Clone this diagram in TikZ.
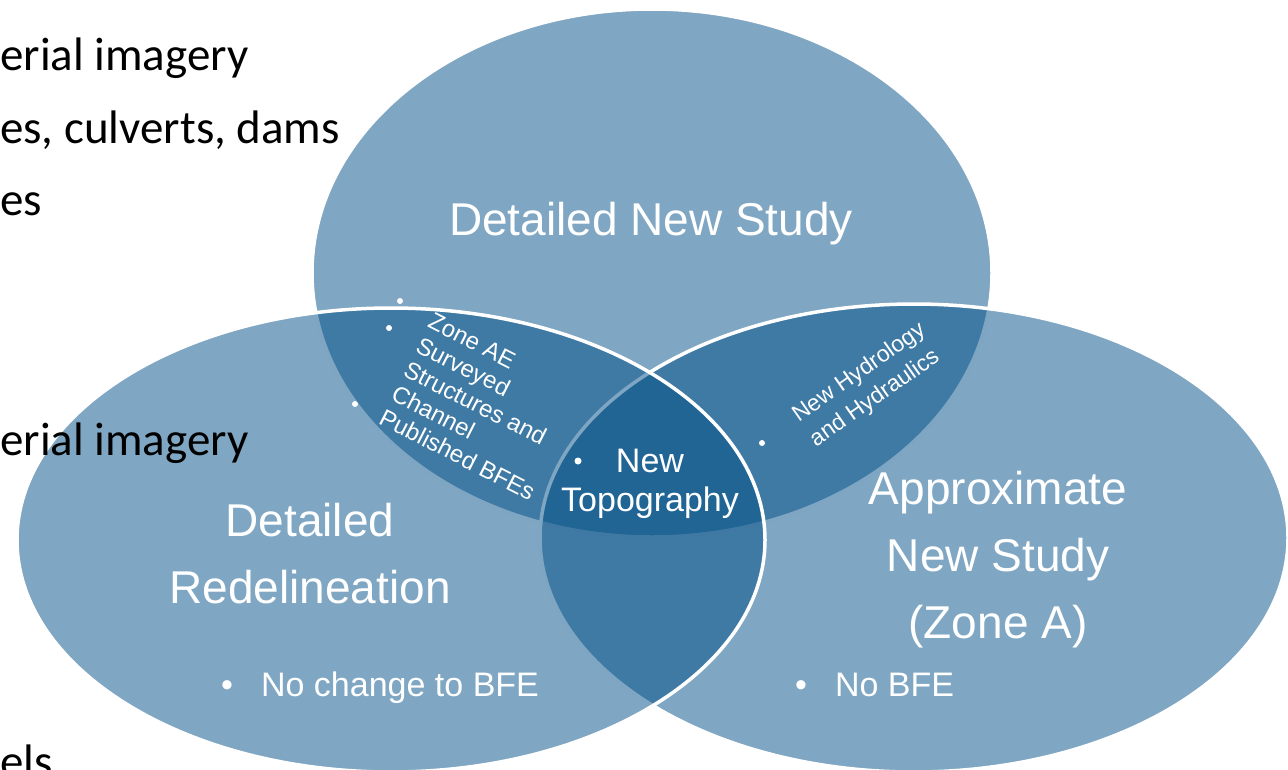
\documentclass[tikz,border=0pt]{standalone}
\usepackage{fontspec}
\setmainfont{Liberation Sans}
\newfontfamily\slidefont{Carlito}
\usepackage{tikz}
\usetikzlibrary{shapes.geometric}
\definecolor{vennblue}{RGB}{3,80,135}

\begin{document}
\begin{tikzpicture}[x=1pt,y=-1pt,
    venn/.style={ellipse, draw=white, line width=3.5pt, fill=vennblue, fill opacity=0.51, inner sep=0pt},
    biglabel/.style={text=white, font=\fontsize{46}{67}\selectfont, align=center},
    midlabel/.style={text=white, font=\fontsize{34}{39}\selectfont, align=center},
    smalllabel/.style={text=white, font=\fontsize{24}{27}\selectfont, align=left, inner sep=0pt},
    slidetext/.style={anchor=base west, inner sep=0pt, font=\slidefont\fontsize{47}{57}\selectfont}]
  \useasboundingbox (0,0) rectangle (1288,769);
  \clip (0,0) rectangle (1288,769);
  \node[venn, minimum width=680pt, minimum height=528pt] (study) at (652,273) {};
  \node[venn, minimum width=748pt, minimum height=468pt] (approx) at (914,538) {};
  \node[venn, minimum width=748pt, minimum height=464pt] (redel) at (391,540) {};
  \node[biglabel, anchor=base] (studytitle) at (651,235) {Detailed New Study};
  \node[biglabel] (redeltitle) at (310,554) {Detailed\\Redelineation};
  \node[biglabel] (approxtitle) at (998,560) {Approximate\\New Study\\(Zone A)};
  \node[midlabel] (topo) at (650,484) {New\\Topography};
  \node[midlabel, anchor=base west, inner sep=0pt] (nochange) at (221,696) {•\hspace{28pt}No change to BFE};
  \node[midlabel, anchor=base west, inner sep=0pt] (nobfe) at (795,696) {•\hspace{28pt}No BFE};
  \node[smalllabel, rotate=-27, anchor=north west] (zoneae) at (434,312) {Zone AE\\Surveyed\\Structures and\\Channel\\Published BFEs};
  \node[smalllabel, rotate=35, anchor=north west, font=\fontsize{23}{30}\selectfont] (hydro) at (789,409) {New Hydrology\\and Hydraulics};
  \foreach \px/\py in {400/301, 389/328, 355/404, 762/443}
    \fill[white] (\px,\py) circle (3pt);
  \fill[white] (578,461) circle (3.5pt);
  \node[slidetext] (imagery) at (0,70) {erial imagery};
  \node[slidetext] (dams) at (0,143) {es, culverts, dams};
  \node[slidetext] (es) at (0,215) {es};
  \node[slidetext] (imagerytwo) at (0,455) {erial imagery};
  \node[slidetext] (els) at (0,777) {els};
\end{tikzpicture}
\end{document}
